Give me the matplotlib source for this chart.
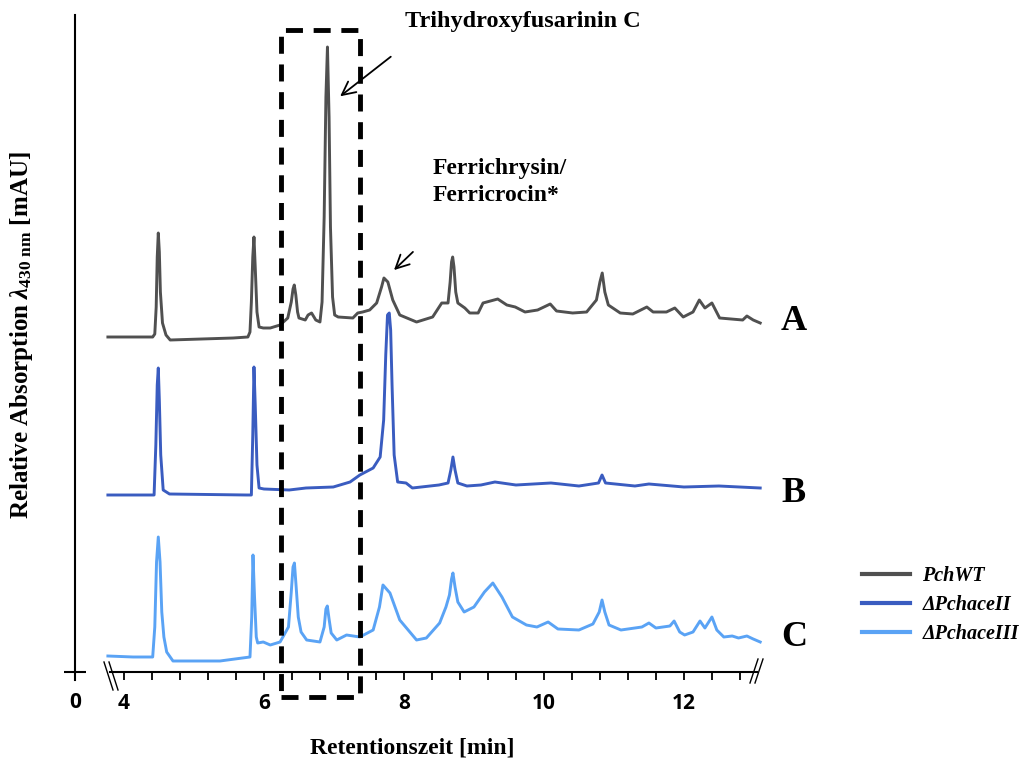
import matplotlib
matplotlib.use("Agg")
import matplotlib.pyplot as plt
import numpy as np
from matplotlib.patches import Rectangle
from matplotlib.lines import Line2D

plt.rcParams['mathtext.fontset'] = 'custom'
plt.rcParams['mathtext.rm'] = 'Liberation Serif:bold'
plt.rcParams['mathtext.it'] = 'Liberation Serif:italic:bold'
plt.rcParams['mathtext.bf'] = 'Liberation Serif:bold'

# retention time [min] and relative absorption (above each trace's own baseline)
time_a = [3.77, 4.23, 4.41, 4.44, 4.46, 4.475, 4.49, 4.505, 4.52, 4.55, 4.6, 4.66, 5.56, 5.77,
          5.8, 5.82, 5.84, 5.857, 5.875, 5.9, 5.93, 5.99, 6.09, 6.23, 6.34, 6.39, 6.415, 6.433,
          6.455, 6.48, 6.5, 6.59, 6.63, 6.68, 6.74, 6.8, 6.83, 6.86, 6.885, 6.907, 6.93, 6.95,
          6.98, 7.01, 7.06, 7.27, 7.34, 7.41, 7.51, 7.61, 7.68, 7.714, 7.77, 7.84, 7.94, 8.18,
          8.41, 8.54, 8.63, 8.66, 8.68, 8.696, 8.715, 8.74, 8.77, 8.87, 8.94, 9.06, 9.13, 9.34,
          9.47, 9.59, 9.73, 9.91, 10.09, 10.18, 10.41, 10.61, 10.75, 10.8, 10.833, 10.87, 10.92,
          11.09, 11.27, 11.47, 11.56, 11.75, 11.87, 11.99, 12.13, 12.22, 12.3, 12.4, 12.51, 12.84,
          12.9, 12.99, 13.09]
abs_a = [0, 0, 0, 3, 30, 80, 104, 85, 45, 14, 2, -3, -1, 0,
         5, 35, 80, 100, 70, 25, 10, 9, 9, 12, 19, 35, 48, 52,
         42, 25, 19, 17, 22, 24, 17, 15, 35, 120, 240, 290, 220, 110,
         40, 22, 20, 19, 24, 25, 27, 34, 50, 59, 55, 37, 22, 15,
         20, 34, 34, 55, 75, 80, 70, 45, 34, 29, 24, 24, 34, 38,
         32, 30, 25, 27, 33, 26, 24, 25, 37, 55, 64, 45, 32,
         24, 23, 30, 25, 25, 29, 20, 25, 37, 29, 34, 19, 17,
         21, 17, 14]

time_b = [3.77, 4.43, 4.455, 4.475, 4.49, 4.505, 4.525, 4.56, 4.65, 5.75, 5.82, 5.84, 5.857,
          5.875, 5.9, 5.93, 6.0, 6.36, 6.6, 6.99, 7.23, 7.37, 7.56, 7.66, 7.71, 7.74, 7.765, 7.79,
          7.81, 7.83, 7.86, 7.91, 8.03, 8.12, 8.5, 8.63, 8.67, 8.7, 8.73, 8.77, 8.9, 9.1, 9.3, 9.6,
          10.1, 10.5, 10.78, 10.83, 10.88, 11.3, 11.5, 12.0, 12.5, 13.09]
abs_b = [0, 0, 50, 110, 127, 95, 40, 5, 1, 0, 0, 60, 128,
         90, 30, 7, 6, 5, 7, 8, 13, 20, 27, 38, 75, 140, 180, 182, 165,
         110, 40, 13, 12, 7, 10, 12, 25, 38, 25, 12, 9, 10, 13, 10,
         12, 9, 12, 20, 12, 9, 11, 8, 9, 7]

time_c = [3.77, 4.13, 4.41, 4.44, 4.465, 4.49, 4.515, 4.54, 4.57, 4.61, 4.7, 5.37, 5.8, 5.825,
          5.843, 5.865, 5.89, 5.91, 5.99, 6.09, 6.23, 6.35, 6.39, 6.415, 6.435, 6.46, 6.49, 6.53,
          6.61, 6.8, 6.86, 6.885, 6.905, 6.93, 6.96, 7.04, 7.18, 7.37, 7.56, 7.65, 7.7, 7.8, 7.94,
          8.18, 8.32, 8.51, 8.6, 8.65, 8.68, 8.7, 8.73, 8.77, 8.86, 9.0, 9.15, 9.27, 9.4, 9.55,
          9.75, 9.9, 10.06, 10.2, 10.5, 10.7, 10.79, 10.83, 10.87, 10.93, 11.1, 11.4, 11.5, 11.6,
          11.8, 11.86, 11.94, 12.01, 12.13, 12.23, 12.3, 12.4, 12.47, 12.57, 12.69, 12.78, 12.9,
          12.99, 13.09]
abs_c = [1, 0, 0, 30, 95, 120, 95, 45, 20, 5, -4, -4, 0, 40,
         102, 60, 20, 14, 15, 12, 15, 30, 65, 90, 94, 70, 40, 25,
         17, 15, 30, 48, 51, 38, 24, 17, 22, 20, 27, 50, 72, 64, 37,
         17, 19, 34, 50, 62, 78, 84, 70, 55, 45, 50, 65, 74, 60, 40,
         32, 30, 35, 28, 27, 33, 45, 57, 45, 32, 27, 30, 34, 29,
         31, 36, 25, 22, 25, 36, 29, 40, 27, 20, 21, 19, 21,
         18, 15]

baselines = {'A': 335, 'B': 177, 'C': 15}
series_names = ['PchWT', 'ΔPchaceII', 'ΔPchaceIII']
colors = ['#505050', '#3a5cc0', '#5aa3f5']
tick_values = [4, 6, 8, 10, 12]

W, H = 1034, 769
fig = plt.figure(figsize=(W / 100, H / 100), dpi=100)


def px(x, y):
    return x / W, 1 - y / H


ax = fig.add_axes([75 / W, (H - 680) / H, 695 / W, 665 / H])
ax.set_xlim(3.3, 13.23)
ax.set_ylim(-8, 657)

for (t, a), key, col in zip([(time_a, abs_a), (time_b, abs_b), (time_c, abs_c)], 'ABC', colors):
    ax.plot(t, np.array(a) + baselines[key], color=col, lw=2.1, solid_joinstyle='round')

# spines
for s in ['top', 'right']:
    ax.spines[s].set_visible(False)
ax.spines['left'].set_linewidth(1.5)
ax.spines['bottom'].set_linewidth(1.5)
ax.spines['bottom'].set_position(('data', 0))
ax.spines['bottom'].set_bounds(3.8, 13.04)

ax.set_xticks(tick_values)
ax.set_xticklabels([str(v) for v in tick_values])
ax.set_xticks(np.arange(4, 12.81, 0.4), minor=True)
ax.tick_params(axis='x', which='both', direction='out', length=6, width=1.3, pad=9)
ax.tick_params(axis='x', labelsize=15)
for lab in ax.get_xticklabels():
    lab.set_fontfamily('Open Sans')
    lab.set_fontweight('bold')
ax.set_yticks([0])
ax.set_yticklabels([''])
ax.tick_params(axis='y', direction='inout', length=16, width=1.5)

ax.text(*px(75, 703), '0', transform=fig.transFigure, ha='center', va='center',
        fontsize=15, fontweight='bold', family='Open Sans')

# axis break marks
for x0 in [104, 109]:
    fig.add_artist(Line2D([x0 / W, (x0 + 9) / W], [1 - 662 / H, 1 - 690 / H], color='black', lw=1.0))
for x0 in [750, 755]:
    fig.add_artist(Line2D([x0 / W, (x0 + 8) / W], [1 - 683 / H, 1 - 659 / H], color='black', lw=1.0))

# dashed box around Trihydroxyfusarinin C
ax.add_patch(Rectangle((6.243, -25), 7.371 - 6.243, 667, fill=False, ec='black', lw=3.5,
                       ls=(0, (3.5, 2.2)), clip_on=False, zorder=5))

serif = 'Liberation Serif'
ax.annotate('', xy=(7.057, 574), xytext=(7.843, 617),
            arrowprops=dict(arrowstyle='->', color='black', lw=1.3, mutation_scale=24))
fig.text(*px(405, 21), 'Trihydroxyfusarinin C', ha='left', va='center', family=serif,
         fontweight='bold', fontsize=17.5)
ax.annotate('', xy=(7.829, 400), xytext=(8.157, 422),
            arrowprops=dict(arrowstyle='->', color='black', lw=1.3, mutation_scale=24))
fig.text(*px(433, 182), 'Ferrichrysin/\nFerricrocin*', ha='left', va='center', family=serif,
         fontweight='bold', fontsize=17, linespacing=1.4)

for key, y in zip('ABC', [322, 493, 638]):
    fig.text(*px(781, y), key, ha='left', va='center', family=serif, fontweight='bold', fontsize=26)

fig.text(*px(22, 335), r'Relative Absorption $\mathit{\lambda}_{\mathregular{430\ nm}}$ [mAU]',
         rotation=90, ha='center', va='center', family=serif, fontweight='bold', fontsize=18)
fig.text(*px(412, 748), 'Retentionszeit [min]', ha='center', va='center', family=serif,
         fontweight='bold', fontsize=17)

handles = [Line2D([], [], color=c, lw=3) for c in colors]
leg = fig.legend(handles, series_names, loc='center left', bbox_to_anchor=px(862, 605),
                 frameon=False, handlelength=2.4, handletextpad=0.6, labelspacing=0.45,
                 borderpad=0, borderaxespad=0,
                 prop=dict(family=serif, style='italic', weight='bold', size=14.5))

fig.savefig('out.png', dpi=100)
